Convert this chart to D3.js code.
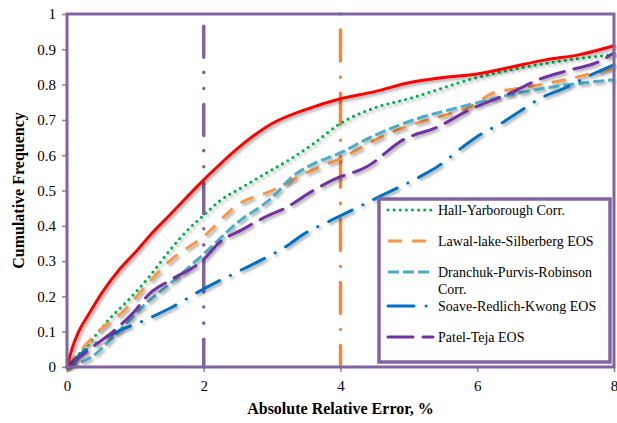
<!DOCTYPE html>
<meta charset="utf-8">
<style>
body { margin: 0; background: #fff; }
</style>
<body>
<svg id="chart" width="617" height="423"></svg>
<script src="https://d3js.org/d3.v7.min.js"></script>
<script>

// x values (absolute relative error, %) and cumulative frequencies
var redX   = [0, 0.07, 0.17, 0.32, 0.51, 0.76, 1, 1.2, 1.5, 2, 2.5, 3, 3.5, 4, 4.5, 5, 5.5, 6, 6.5, 7, 7.5, 8];
var redY   = [0, 0.05, 0.1, 0.15, 0.21, 0.275, 0.325, 0.37, 0.43, 0.53, 0.62, 0.69, 0.73, 0.76, 0.78, 0.805, 0.82, 0.83, 0.85, 0.87, 0.885, 0.91];

var hallX  = [0, 0.39, 0.64, 0.9, 1.22, 1.5, 1.75, 2, 2.23, 2.57, 2.92, 3.26, 3.6, 4, 4.5, 5, 6, 7, 8];
var hallY  = [0, 0.083, 0.14, 0.19, 0.26, 0.33, 0.385, 0.43, 0.47, 0.51, 0.55, 0.588, 0.632, 0.69, 0.734, 0.76, 0.82, 0.86, 0.885];

var lawalX = [0, 0.26, 0.51, 0.81, 1.2, 1.5, 2, 2.5, 3, 3.5, 4, 4.58, 4.92, 5.56, 5.9, 6.24, 6.64, 7.27, 8];
var lawalY = [0, 0.06, 0.11, 0.155, 0.24, 0.3, 0.37, 0.46, 0.5, 0.55, 0.59, 0.65, 0.678, 0.715, 0.737, 0.777, 0.79, 0.813, 0.847];

var dranX  = [0, 0.37, 0.7, 1.1, 1.5, 2, 2.5, 3, 3.3, 3.6, 4, 4.43, 5.07, 5.76, 6.45, 7.12, 8];
var dranY  = [0, 0.03, 0.09, 0.17, 0.235, 0.32, 0.41, 0.48, 0.54, 0.575, 0.607, 0.65, 0.7, 0.737, 0.77, 0.794, 0.814];

var soaveX = [0, 0.22, 0.51, 0.85, 1.07, 1.22, 1.54, 1.94, 2.57, 2.86, 3.21, 3.45, 3.89, 4.1, 4.54, 5.17, 5.42, 5.8, 6, 6.39, 6.59, 6.97, 7.22, 7.67, 8];
var soaveY = [0, 0.04, 0.077, 0.11, 0.127, 0.14, 0.17, 0.215, 0.277, 0.305, 0.342, 0.375, 0.418, 0.438, 0.48, 0.54, 0.568, 0.625, 0.653, 0.695, 0.72, 0.766, 0.785, 0.828, 0.856];

var patelX = [0, 0.41, 0.7, 0.95, 1.22, 1.5, 2, 2.23, 2.57, 2.92, 3.21, 3.55, 3.89, 4.39, 4.92, 5.42, 5.9, 6.53, 6.88, 7.37, 7.77, 8];
var patelY = [0, 0.062, 0.105, 0.15, 0.21, 0.245, 0.305, 0.353, 0.39, 0.427, 0.452, 0.494, 0.53, 0.568, 0.644, 0.68, 0.73, 0.78, 0.813, 0.842, 0.864, 0.89];

var legendNames = ["Hall-Yarborough Corr.", "Lawal-lake-Silberberg EOS", "Dranchuk-Purvis-Robinson Corr.", "Soave-Redlich-Kwong EOS", "Patel-Teja EOS"];
var yTicks = [0, 0.1, 0.2, 0.3, 0.4, 0.5, 0.6, 0.7, 0.8, 0.9, 1];
var xTicks = [0, 2, 4, 6, 8];
var markerX = [2, 4];

var margin = {top: 14, right: 3, bottom: 56, left: 67},
    width = 617 - margin.left - margin.right,
    height = 423 - margin.top - margin.bottom;

var frame = "#8064a2";
var serif = "Liberation Serif";

var svg = d3.select("#chart");

var defs = svg.append("defs");
defs.append("filter").attr("id", "shadow")
    .attr("x", "-5%").attr("y", "-5%").attr("width", "110%").attr("height", "110%")
  .append("feDropShadow")
    .attr("dx", 2).attr("dy", 2).attr("stdDeviation", 1.5)
    .attr("flood-color", "#000").attr("flood-opacity", 0.35);

var g = svg.append("g").attr("transform", "translate(" + margin.left + "," + margin.top + ")");

var x = d3.scaleLinear().domain([0, 8]).range([0, width]);
var y = d3.scaleLinear().domain([0, 1]).range([height, 0]);

// axes
var yAxis = g.append("g")
    .call(d3.axisLeft(y).tickValues(yTicks).tickFormat(function(d) { return d === 0 || d === 1 ? d : d3.format(".1f")(d); }).tickSize(5).tickPadding(6));
var xAxis = g.append("g").attr("transform", "translate(0," + height + ")")
    .call(d3.axisBottom(x).tickValues(xTicks).tickSize(5).tickPadding(8));
[yAxis, xAxis].forEach(function(a) {
  a.attr("font-family", serif).attr("font-size", 15);
  a.select(".domain").remove();
  a.selectAll(".tick line").attr("stroke", "#888").attr("stroke-width", 1.5);
  a.selectAll(".tick text").attr("fill", "#000")
      .attr("font-family", serif).attr("font-size", 15);
});

// reference lines
g.append("line")
    .attr("x1", x(markerX[0])).attr("x2", x(markerX[0]))
    .attr("y1", y(0.965)).attr("y2", y(0))
    .attr("stroke", frame).attr("stroke-width", 3.5).attr("stroke-linecap", "round")
    .attr("stroke-dasharray", "31 15 0.1 16 0.1 16");
g.append("line")
    .attr("x1", x(markerX[1])).attr("x2", x(markerX[1]))
    .attr("y1", y(1)).attr("y2", y(0))
    .attr("stroke", "#ec8a3e").attr("stroke-width", 3.5).attr("stroke-linecap", "round")
    .attr("stroke-dasharray", "0.1 16 31 16");

var line = d3.line()
    .x(function(d) { return x(d[0]); })
    .y(function(d) { return y(d[1]); })
    .curve(d3.curveMonotoneX);

var series = [
  {xs: hallX,  ys: hallY,  color: "#00b050", dash: "0.1 6",        cap: "round"},
  {xs: lawalX, ys: lawalY, color: "#f79646", dash: "14 10",        cap: "butt"},
  {xs: dranX,  ys: dranY,  color: "#4bacc6", dash: "11 4",         cap: "butt"},
  {xs: soaveX, ys: soaveY, color: "#0070c0", dash: "26 12 0.1 12", cap: "round"},
  {xs: patelX, ys: patelY, color: "#7030a0", dash: "25 10",        cap: "round"},
  {xs: redX,   ys: redY,   color: "#ff0000", dash: null,           cap: "round"}
];

series.forEach(function(s) {
  var pts = s.xs.map(function(v, i) { return [v, s.ys[i]]; });
  g.append("path")
      .datum(pts)
      .attr("d", line)
      .attr("fill", "none")
      .attr("stroke", s.color)
      .attr("stroke-width", 3)
      .attr("stroke-linecap", s.cap)
      .attr("stroke-dasharray", s.dash)
      .attr("filter", "url(#shadow)");
});

// plot frame
g.append("rect")
    .attr("width", width).attr("height", height)
    .attr("fill", "none").attr("stroke", frame).attr("stroke-width", 3);

// legend
var legend = svg.append("g");
legend.append("rect")
    .attr("x", 379).attr("y", 199).attr("width", 231).attr("height", 163)
    .attr("fill", "#fff").attr("stroke", frame).attr("stroke-width", 3.5);

var entryY = [210, 241, 272, 306, 337];
legendNames.forEach(function(name, i) {
  var s = series[i];
  var row = legend.append("g").attr("transform", "translate(0," + entryY[i] + ")");
  row.append("line")
      .attr("x1", 388).attr("x2", 433).attr("y1", 0).attr("y2", 0)
      .attr("stroke", s.color).attr("stroke-width", 3)
      .attr("stroke-linecap", s.cap).attr("stroke-dasharray", s.dash);
  var t = row.append("text").attr("x", 438).attr("y", 5)
      .attr("font-family", serif).attr("font-size", 14).attr("fill", "#000");
  if (name === "Dranchuk-Purvis-Robinson Corr.") {
    t.append("tspan").attr("x", 438).text("Dranchuk-Purvis-Robinson");
    t.append("tspan").attr("x", 438).attr("dy", 17).text("Corr.");
  } else {
    t.text(name);
  }
});

// axis titles
svg.append("text")
    .attr("x", margin.left + width / 2).attr("y", 414)
    .attr("text-anchor", "middle")
    .attr("font-family", serif).attr("font-size", 16).attr("font-weight", "bold")
    .text("Absolute Relative Error, %");
svg.append("text")
    .attr("transform", "translate(24," + (margin.top + height / 2) + ") rotate(-90)")
    .attr("text-anchor", "middle")
    .attr("font-family", serif).attr("font-size", 16).attr("font-weight", "bold")
    .text("Cumulative Frequency");

</script>
</body>
